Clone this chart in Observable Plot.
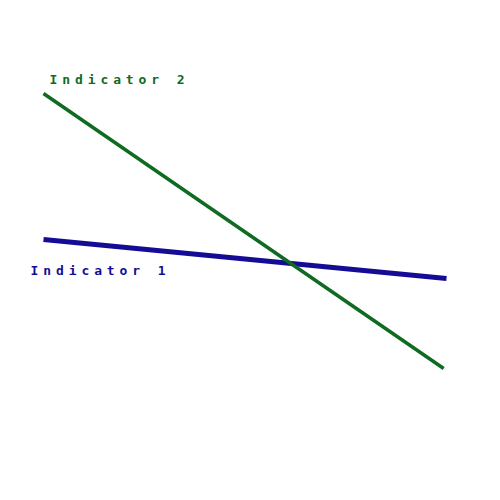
<!DOCTYPE html>
<html><head><meta charset="utf-8">
<script src="https://cdn.jsdelivr.net/npm/d3@7"></script>
<script src="https://cdn.jsdelivr.net/npm/@observablehq/plot@0.6"></script>
<style>body{margin:0;background:#fff}</style>
</head><body><div id="chart"></div>
<script>
const series = ["Indicator 1", "Indicator 2"];
const xStart = [0, 0];
const xEnd = [1, 0.993];
const yStart = [2.61, 4.07];
const yEnd = [2.22, 1.32];
const colors = ["#150c96", "#0f6b22"];
const widths = [5, 3.5];

const rows = [];
series.forEach((s, i) => {
  rows.push({series: s, x: xStart[i], y: yStart[i]});
  rows.push({series: s, x: xEnd[i], y: yEnd[i]});
});
const labels = series.map((s, i) => ({series: s, x: xStart[i], y: yStart[i]}));

const marks = series.map((s, i) => Plot.line(rows.filter(d => d.series === s), {
  x: "x", y: "y", stroke: colors[i], strokeWidth: widths[i], strokeLinecap: "butt"
}));
marks.push(Plot.text([labels[0]], {x: "x", y: "y", text: "series", fill: colors[0],
  textAnchor: "start", lineAnchor: "bottom", dx: -13, dy: 35,
  fontFamily: "DejaVu Sans Mono", fontWeight: "bold", fontSize: 13}));
marks.push(Plot.text([labels[1]], {x: "x", y: "y", text: "series", fill: colors[1],
  textAnchor: "start", lineAnchor: "bottom", dx: 6, dy: -10,
  fontFamily: "DejaVu Sans Mono", fontWeight: "bold", fontSize: 13}));

const chart = Plot.plot({
  width: 500, height: 500, margin: 0,
  x: {domain: [0, 1], range: [43, 446], axis: null},
  y: {domain: [0, 5], range: [500, 0], axis: null},
  marks
});
chart.querySelectorAll("text").forEach(t => t.style.letterSpacing = "4.9px");
document.getElementById("chart").appendChild(chart);
</script>
</body></html>
